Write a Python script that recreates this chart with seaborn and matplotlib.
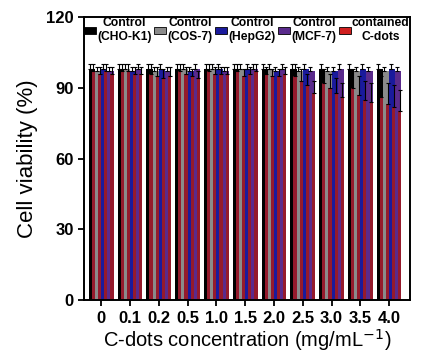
import numpy as np
import pandas as pd
import seaborn as sns
import matplotlib.pyplot as plt
from matplotlib.patches import Patch

# concentrations (mg/mL)
conc = ["0", "0.1", "0.2", "0.5", "1.0", "1.5", "2.0", "2.5", "3.0", "3.5", "4.0"]
cells = ["CHO-K1", "COS-7", "HepG2", "MCF-7"]

# control viability (%), one list per cell line
ctrl_cho = [98, 98, 98, 98, 98, 98, 98, 98, 98, 98, 98]
ctrl_cos = [97, 98, 97, 98, 98, 98, 98, 97, 97, 97, 97]
ctrl_hep = [98, 97, 98, 97, 98, 98, 97, 98, 97, 98, 98]
ctrl_mcf = [97, 98, 97, 98, 97, 98, 98, 97, 98, 97, 97]
ctrl_err = [2, 2, 2, 2, 2, 2, 2, 2, 2, 2, 2]

# viability with C-dots (%)
cd_cho = [97, 97, 96, 97, 97, 97, 96, 95, 92, 90, 86]
cd_cos = [96, 97, 95, 96, 96, 95, 95, 93, 90, 87, 83]
cd_hep = [97, 96, 94, 95, 96, 96, 95, 91, 88, 85, 82]
cd_mcf = [96, 96, 95, 94, 96, 97, 96, 88, 86, 84, 80]
cd_err = [3, 3, 4, 3, 3, 3, 3, 5, 6, 8, 9]

ctrl_colors = ["#000000", "#8a8a8a", "#1a1a9c", "#5a2a8c"]
red = "#951a2c"

ctrl = [ctrl_cho, ctrl_cos, ctrl_hep, ctrl_mcf]
cdots = [cd_cho, cd_cos, cd_hep, cd_mcf]

rows = []
for c, cv, dv in zip(cells, ctrl, cdots):
    for i, k in enumerate(conc):
        rows.append({"conc": k, "series": "ctrl " + c, "val": cv[i], "err": ctrl_err[i]})
        rows.append({"conc": k, "series": "cd " + c, "val": dv[i], "err": cd_err[i]})
df = pd.DataFrame(rows)
order = []
for c in cells:
    order += ["ctrl " + c, "cd " + c]
pal = {}
for c, col in zip(cells, ctrl_colors):
    pal["ctrl " + c] = col
    pal["cd " + c] = red

sns.set_style("ticks")
plt.rcParams["font.family"] = ["Liberation Sans", "DejaVu Sans"]
for k in ["text.color", "axes.labelcolor", "xtick.color", "ytick.color", "axes.edgecolor"]:
    plt.rcParams[k] = "black"

fig = plt.figure(figsize=(4.26, 3.62), dpi=100)
ax = fig.add_axes([0.197, 0.171, 0.765, 0.782])

sns.barplot(data=df, x="conc", y="val", hue="series", hue_order=order,
            order=conc, palette=pal, errorbar=None, width=0.86,
            dodge=True, ax=ax, legend=False, linewidth=0, saturation=1)

# controls sit behind the C-dots bars: widen them under the neighbouring red bar
bar_conts = list(ax.containers)
for j, cont in enumerate(bar_conts):
    name = order[j]
    sub = df[df.series == name].set_index("conc").loc[conc]
    for p, e in zip(cont.patches, sub["err"]):
        if name.startswith("ctrl"):
            p.set_width(p.get_width() * 2)
            p.set_zorder(1)
            xc = p.get_x() + p.get_width() / 4
        else:
            p.set_zorder(2)
            xc = p.get_x() + p.get_width() / 2
        ax.errorbar(xc, p.get_height(), yerr=[[0], [e]], fmt="none",
                    ecolor="black", elinewidth=0.8, capsize=1.6, capthick=0.8, zorder=3)

ax.set_ylim(0, 120)
ax.set_xlim(-0.6, 10.72)
ax.set_yticks([0, 30, 60, 90, 120])
for s in ["top", "right", "left", "bottom"]:
    ax.spines[s].set_visible(True)
    ax.spines[s].set_linewidth(1.4)
ax.tick_params(axis="both", direction="out", length=4, width=1.3)
for t in ax.get_yticklabels() + ax.get_xticklabels():
    t.set_fontweight("bold")
    t.set_fontsize(12)
ax.set_xlabel("C-dots concentration (mg/mL$^{-1}$)", fontsize=14.5, labelpad=1)
ax.set_ylabel("Cell viability (%)", fontsize=16, labelpad=6)

labels = ["Control\n(CHO-K1)", "Control\n(COS-7)", "Control\n(HepG2)", "Control\n(MCF-7)", "contained\nC-dots"]
handles = [Patch(facecolor=c, edgecolor="black", linewidth=0.6) for c in ctrl_colors + ["#d01f1f"]]
leg = ax.legend(handles, labels, loc="upper center", ncol=5, frameon=False,
                bbox_to_anchor=(0.5, 1.02), handlelength=1.0, handleheight=0.45,
                handletextpad=0.1, columnspacing=0.2, borderaxespad=0.1,
                prop={"weight": "bold", "size": 8.7})
for t in leg.get_texts():
    t.set_multialignment("center")

fig.savefig("out.png", dpi=100)
